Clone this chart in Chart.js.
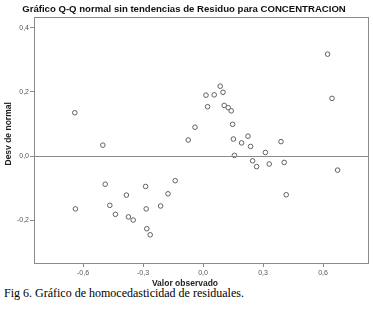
<!DOCTYPE html>
<html>
<head>
<meta charset="utf-8">
<script src="https://cdn.jsdelivr.net/npm/chart.js@4.4.1/dist/chart.umd.min.js"></script>
<style>
  body { margin: 0; background: #fff; }
  #wrap { width: 373px; height: 290px; position: relative; }
  #caption { font-family: "Liberation Serif", serif; font-size: 12px; line-height: 14px; margin: -4px 0 0 4px; color: #000; }
</style>
</head>
<body>
<div id="wrap"><canvas id="chart"></canvas></div>
<div id="caption">Fig 6. Gráfico de homocedasticidad de residuales.</div>
<script>
const observed = [
  -0.641, -0.501, -0.638, -0.489, -0.466, -0.438, -0.383, -0.373, -0.349, -0.287,
  -0.284, -0.281, -0.264, -0.212, -0.175, -0.139, -0.074, -0.040, 0.015, 0.023,
  0.056, 0.086, 0.100, 0.106, 0.126, 0.141, 0.148, 0.152, 0.157, 0.193,
  0.225, 0.238, 0.248, 0.268, 0.312, 0.331, 0.390, 0.406, 0.416, 0.623,
  0.645, 0.673
];
const deviation = [
  0.135, 0.034, -0.165, -0.088, -0.154, -0.182, -0.122, -0.190, -0.200, -0.095,
  -0.165, -0.227, -0.246, -0.156, -0.118, -0.077, 0.050, 0.090, 0.190, 0.154,
  0.191, 0.218, 0.199, 0.158, 0.151, 0.141, 0.099, 0.053, 0.002, 0.041,
  0.062, 0.030, -0.015, -0.033, 0.011, -0.025, 0.045, -0.020, -0.121, 0.318,
  0.180, -0.044
];
const xTicks = [-0.6, -0.3, 0.0, 0.3, 0.6];
const yTicks = [-0.2, 0.0, 0.2, 0.4];
const xLabel = "Valor observado";
const yLabel = "Desv de normal";

const fmt = v => v.toFixed(1).replace(".", ",");
const lineColor = "#8a8a8a";
const labelFont = "bold 8.5px 'Liberation Sans'";

// frame around the plot, the zero line and the two axis labels
const framePlugin = {
  id: "frame",
  afterDatasetsDraw(chart) {
    const { ctx, chartArea: a, scales } = chart;
    const y0 = Math.round(scales.y.getPixelForValue(0)) + 0.5;
    ctx.save();
    ctx.strokeStyle = lineColor;
    ctx.lineWidth = 1;
    ctx.beginPath();
    ctx.moveTo(a.left, y0);
    ctx.lineTo(a.right, y0);
    ctx.stroke();
    ctx.strokeRect(Math.round(a.left) + 0.5, Math.round(a.top) + 0.5, Math.round(a.right - a.left), Math.round(a.bottom - a.top));

    ctx.fillStyle = "#222";
    ctx.font = labelFont;
    ctx.textAlign = "center";
    ctx.textBaseline = "middle";
    ctx.fillText(xLabel, a.left + (a.right - a.left) * 0.452, a.bottom + 21);
    ctx.translate(9, a.top + (a.bottom - a.top) * 0.475);
    ctx.rotate(-Math.PI / 2);
    ctx.fillText(yLabel, 0, 0);
    ctx.restore();
  }
};

const points = observed.map((x, i) => ({ x: x, y: deviation[i] }));

new Chart(document.getElementById("chart"), {
  type: "scatter",
  plugins: [framePlugin],
  data: {
    datasets: [{
      data: points,
      pointRadius: 2.3,
      pointBorderWidth: 1,
      borderColor: "#606060",
      backgroundColor: "#fff",
    }],
  },
  options: {
    responsive: true,
    maintainAspectRatio: false,
    animation: false,
    layout: { padding: { left: 0, right: 5, top: 0, bottom: 4 } },
    plugins: {
      legend: { display: false },
      tooltip: { enabled: false },
      title: {
        display: true,
        text: "Gráfico Q-Q normal sin tendencias de Residuo para CONCENTRACION",
        color: "#111",
        font: { family: "Liberation Sans", size: 9.6, weight: "bold" },
        padding: { top: 4, bottom: 1.5 },
      },
    },
    scales: {
      x: {
        type: "linear",
        min: -0.845,
        max: 0.825,
        afterBuildTicks: s => { s.ticks = xTicks.map(v => ({ value: v })); },
        afterFit: s => { s.height = 23; },
        ticks: { callback: fmt, color: "#555", font: { family: "Liberation Sans", size: 7 }, padding: 2, maxRotation: 0 },
        grid: { drawOnChartArea: false, drawTicks: true, tickLength: 4, color: lineColor },
        border: { display: true, color: lineColor },
      },
      y: {
        type: "linear",
        min: -0.334,
        max: 0.434,
        afterBuildTicks: s => { s.ticks = yTicks.map(v => ({ value: v })); },
        afterFit: s => { s.width = 34; },
        ticks: { callback: fmt, color: "#555", font: { family: "Liberation Sans", size: 7 }, padding: 1 },
        grid: { drawOnChartArea: false, drawTicks: true, tickLength: 4, color: lineColor },
        border: { display: true, color: lineColor },
      },
    },
  },
});
</script>
</body>
</html>
